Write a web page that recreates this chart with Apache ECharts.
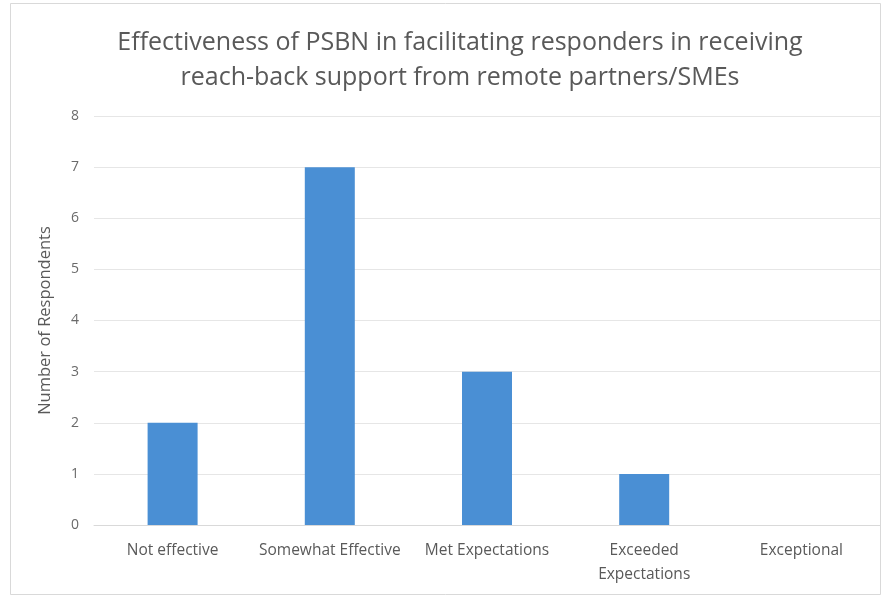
<!DOCTYPE html>
<html>
<head>
<meta charset="utf-8">
<style>
  html, body { margin: 0; padding: 0; background: #ffffff; }
  #chart { width: 888px; height: 596px; }
</style>
<script src="https://cdn.jsdelivr.net/npm/echarts@6/dist/echarts.min.js"></script>
</head>
<body>
<div id="chart"></div>
<script>
// Survey responses: how effective PSBN was for reach-back support
const categories = ['Not effective', 'Somewhat Effective', 'Met Expectations', 'Exceeded\nExpectations', 'Exceptional'];
const respondents = [2, 7, 3, 1, 0];
const yTicks = [0, 1, 2, 3, 4, 5, 6, 7, 8];

const textColor = '#595959';
const fontFamily = '"Open Sans", "Noto Sans", sans-serif';
const narrowFamily = '"Liberation Sans Narrow", "Open Sans", sans-serif';

const chart = echarts.init(document.getElementById('chart'), null, { renderer: 'canvas' });

chart.setOption({
  backgroundColor: '#ffffff',
  animation: false,
  graphic: [{
    type: 'rect',
    shape: { x: 10.5, y: 3.5, width: 870, height: 591 },
    style: { fill: 'none', stroke: '#d9d9d9', lineWidth: 1 },
    silent: true
  }],
  title: {
    text: 'Effectiveness of PSBN in facilitating responders in receiving\nreach-back support from remote partners/SMEs',
    left: 455,
    top: 20,
    textAlign: 'center',
    textStyle: {
      color: textColor,
      fontFamily: fontFamily,
      fontSize: 25,
      fontWeight: 'normal',
      lineHeight: 35
    }
  },
  grid: { left: 94, right: 8, top: 116, bottom: 71 },
  xAxis: {
    type: 'category',
    data: categories,
    axisTick: { show: false },
    axisLine: { lineStyle: { color: '#d9d9d9' } },
    axisLabel: {
      color: textColor,
      fontFamily: fontFamily,
      fontSize: 15.5,
      margin: 14,
      lineHeight: 24,
      interval: 0
    }
  },
  yAxis: {
    type: 'value',
    min: yTicks[0],
    max: yTicks[yTicks.length - 1],
    interval: 1,
    name: 'Number of Respondents',
    nameLocation: 'middle',
    nameGap: 40,
    nameTextStyle: { color: textColor, fontFamily: fontFamily, fontSize: 16.5 },
    axisLine: { show: false },
    axisTick: { show: false },
    axisLabel: { color: '#6a6a6a', fontFamily: fontFamily, fontSize: 14, margin: 15 },
    splitLine: { lineStyle: { color: '#e6e6e6' } }
  },
  series: [{
    type: 'bar',
    data: respondents,
    barWidth: 50,
    itemStyle: { color: '#4a8fd4' }
  }]
});
</script>
</body>
</html>
